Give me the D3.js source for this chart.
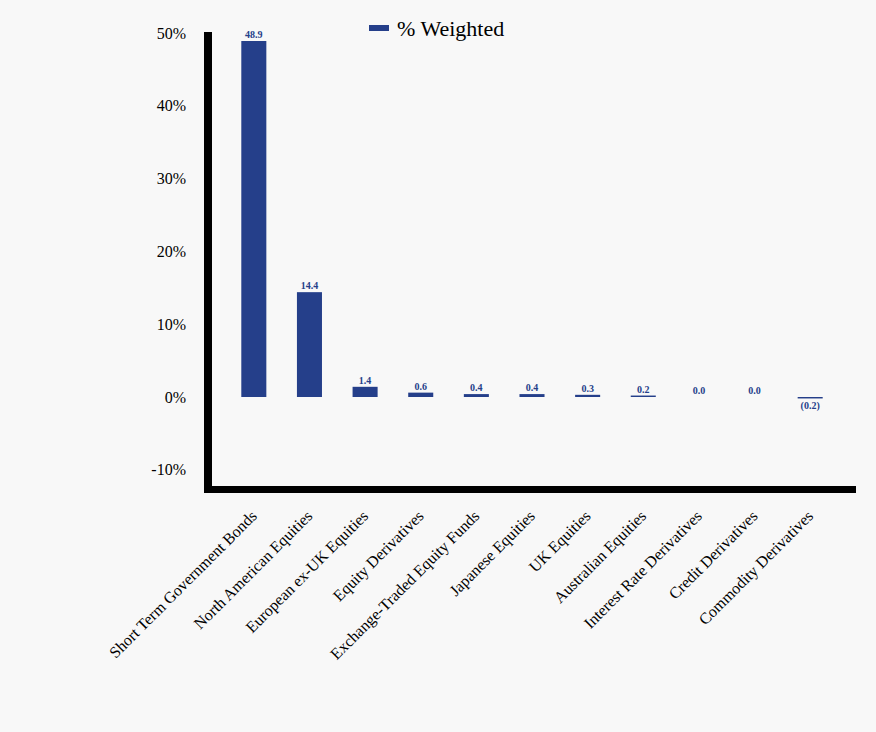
<!DOCTYPE html>
<html><head><meta charset="utf-8">
<script src="https://cdn.jsdelivr.net/npm/d3@7"></script>
<style>body{margin:0;background:#f8f8f8;}svg{display:block;}</style>
</head><body>
<script>
const categories = ["Short Term Government Bonds","North American Equities","European ex-UK Equities","Equity Derivatives","Exchange-Traded Equity Funds","Japanese Equities","UK Equities","Australian Equities","Interest Rate Derivatives","Credit Derivatives","Commodity Derivatives"];
const values = [48.9,14.4,1.4,0.6,0.4,0.4,0.3,0.2,0.0,0.0,-0.2];
const yTicks = [-10,0,10,20,30,40,50];
const seriesName = "% Weighted";

const W=876,H=732, color="#253f8a";
const svg=d3.select("body").append("svg").attr("width",W).attr("height",H).style("background","#f8f8f8");
const y=d3.scaleLinear().domain([-12.5,50]).range([488,33]);
const x=d3.scaleBand().domain(categories).range([226,838]).paddingInner(0.55).paddingOuter(0.275);
const font="'Liberation Serif','Times New Roman',serif";

// y tick labels
const ya=svg.append("g").attr("transform","translate(186,0)")
  .call(d3.axisLeft(y).tickValues(yTicks).tickSize(0).tickPadding(0).tickFormat(d=>d+"%"));
ya.select(".domain").remove();
ya.selectAll("text").attr("font-family",font).attr("font-size",16).attr("fill","#000");

// bars
svg.append("g").selectAll("rect").data(values).join("rect")
  .attr("x",(d,i)=>x(categories[i])).attr("width",x.bandwidth())
  .attr("y",d=>y(Math.max(0,d))).attr("height",d=>Math.abs(y(d)-y(0)))
  .attr("fill",color);

// value labels
svg.append("g").selectAll("text").data(values).join("text")
  .attr("x",(d,i)=>x(categories[i])+x.bandwidth()/2)
  .attr("y",d=>d<0? y(d)+11 : y(d)-3)
  .attr("text-anchor","middle").attr("font-family",font).attr("font-size",10).attr("font-weight","bold").attr("fill",color)
  .text(d=>d<0?"("+Math.abs(d).toFixed(1)+")":d.toFixed(1));

// axes lines
svg.append("line").attr("x1",208).attr("x2",208).attr("y1",32).attr("y2",493).attr("stroke","#000").attr("stroke-width",8);
svg.append("line").attr("x1",204).attr("x2",856).attr("y1",489.5).attr("y2",489.5).attr("stroke","#000").attr("stroke-width",7);

// x labels
const xa=svg.append("g").attr("transform","translate(0,517)")
  .call(d3.axisBottom(x).tickSize(0).tickPadding(0));
xa.select(".domain").remove();
xa.selectAll("text").attr("font-family",font).attr("font-size",16).attr("fill","#000")
  .attr("text-anchor","end").attr("y",0).attr("dy",0).attr("transform","translate(4,0) rotate(-45)");

// legend
svg.append("rect").attr("x",369).attr("y",25).attr("width",20).attr("height",6).attr("fill",color);
svg.append("text").attr("x",397).attr("y",36).attr("font-family",font).attr("font-size",22).attr("fill","#000").text(seriesName);
</script>
</body></html>
